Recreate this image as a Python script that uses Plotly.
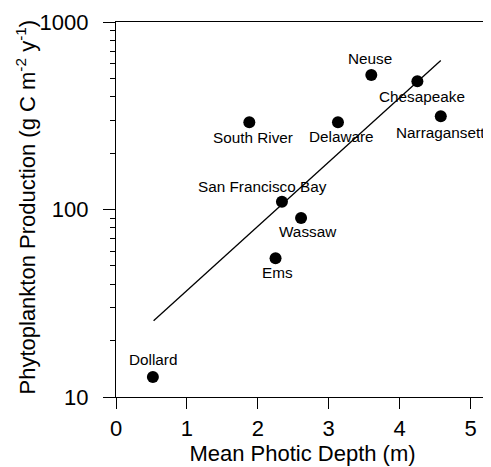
import math
import plotly.graph_objects as go

sites = ["Dollard", "Ems", "Wassaw", "San Francisco Bay", "South River",
         "Delaware", "Neuse", "Chesapeake", "Narragansett"]
depth = [0.52, 2.25, 2.61, 2.34, 1.88, 3.13, 3.60, 4.25, 4.58]
production = [12.8, 55, 90, 110, 292, 292, 521, 483, 314]
# label offsets (pixels) relative to each point
label_dx = [0, 2, 7, -19, 4, 3.5, -1.5, 4.5, 0]
label_dy = [17.5, -14.5, -13.5, 15, -15.5, -14.5, 17, -15, -16]

fit_x = [0.53, 4.58]
fit_y = [25.5, 624]

fig = go.Figure()
fig.add_trace(go.Scatter(x=fit_x, y=fit_y, mode="lines",
                         line=dict(color="black", width=1.3), showlegend=False))
fig.add_trace(go.Scatter(x=depth, y=production, mode="markers",
                         marker=dict(color="black", size=12), showlegend=False))

for s, x, y, dx, dy in zip(sites, depth, production, label_dx, label_dy):
    fig.add_annotation(x=x, y=math.log10(y), yref="y", xref="x", text=s, showarrow=False,
                       xshift=dx, yshift=dy,
                       font=dict(family="Liberation Sans, Arial", size=15.3, color="black"))

# y-axis title
fig.add_annotation(x=0, y=0.5, xref="paper", yref="paper", xanchor="center", yanchor="middle",
                   text="Phytoplankton Production (g C m<sup>-2</sup> y<sup>-1</sup>)",
                   textangle=-90, showarrow=False, xshift=-91, yshift=2,
                   font=dict(family="Liberation Sans, Arial", size=22, color="black"))

fig.update_layout(
    width=483, height=459,
    margin=dict(l=108, r=2, t=14, b=70),
    plot_bgcolor="white", paper_bgcolor="white",
    font=dict(family="Liberation Sans, Arial", color="black"),
)
fig.update_xaxes(range=[0, 5.26], tickvals=[0, 1, 2, 3, 4, 5],
                 ticks="outside", ticklen=11, tickwidth=1.3, tickcolor="black",
                 showline=True, linecolor="black", linewidth=1.3, mirror=True,
                 showgrid=False, zeroline=False,
                 tickfont=dict(size=22),
                 title=dict(text="Mean Photic Depth (m)", font=dict(size=22), standoff=5))
fig.update_yaxes(type="log", range=[1, 3], tickvals=[10, 100, 1000],
                 ticktext=["10", "100", "1000"],
                 ticks="outside", ticklen=12, tickwidth=1.3, tickcolor="black",
                 ticklabelstandoff=10,
                 minor=dict(ticks="outside", ticklen=5, tickcolor="black", tickwidth=1,
                            tickvals=[20, 30, 40, 50, 60, 70, 80, 90,
                                      200, 300, 400, 500, 600, 700, 800, 900]),
                 showline=True, linecolor="black", linewidth=1.3, mirror=True,
                 showgrid=False, zeroline=False,
                 tickfont=dict(size=22))

fig.write_html(
    "out.html",
    post_script="document.documentElement.style.overflow='hidden';"
                "document.body.style.overflow='hidden';",
)
